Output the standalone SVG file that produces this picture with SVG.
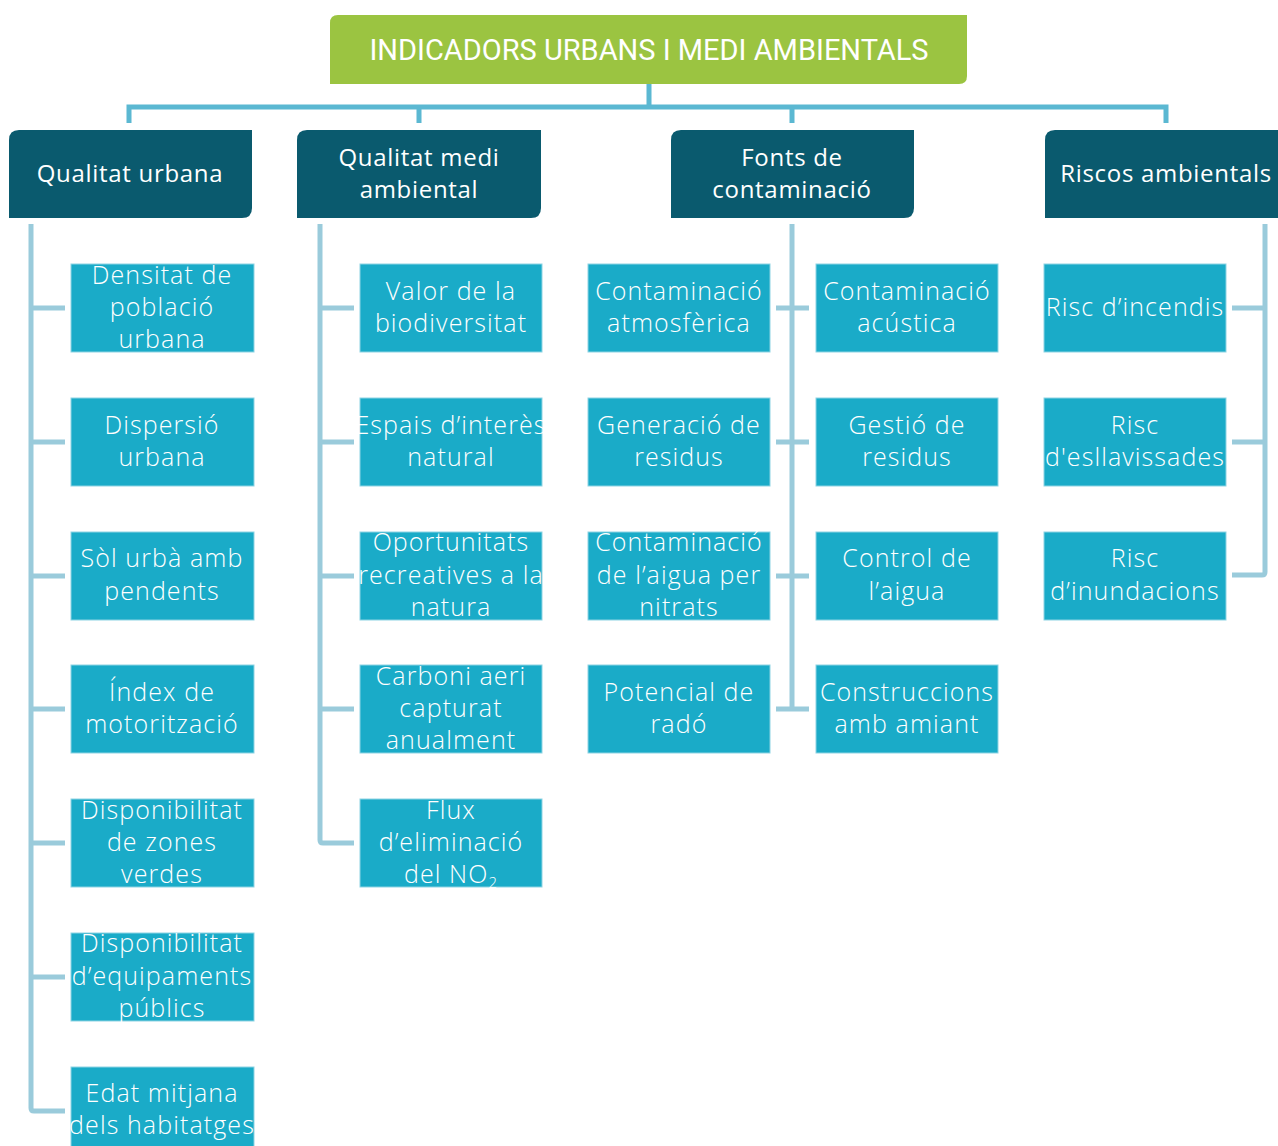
<svg xmlns="http://www.w3.org/2000/svg" width="1278" height="1146" viewBox="0 0 1278 1146">
<style>
.title{font-family:Roboto,"Liberation Sans",sans-serif;font-size:29px;fill:#fff;text-anchor:middle}
.cat{fill:#0A5A6E}
.cat-t{font-family:"Open Sans","Liberation Sans",sans-serif;font-size:24px;fill:#fff;text-anchor:middle;letter-spacing:0.7px}
.box{fill:#1AABC8;stroke:#8DD3E3;stroke-width:1}
.box-t{font-family:"Open Sans","Liberation Sans",sans-serif;font-weight:300;font-size:25px;fill:#fff;text-anchor:middle;letter-spacing:1.1px}
.top{fill:none;stroke:#5BB8D2;stroke-width:5}
.br{fill:none;stroke:#9ACBDB;stroke-width:5;stroke-linejoin:round}
</style>
<g id="connectors">
<path class="top" d="M649 84V107M129 123V107H1166V123M419 107V123M792 107V123"/>
<path class="br" d="M31 224V1108Q31 1111 34 1111H65M31 308H65M31 442H65M31 576H65M31 709H65M31 843H65M31 977H65"/>
<path class="br" d="M320 224V840Q320 843 323 843H354M320 308H354M320 442H354M320 576H354M320 709H354"/>
<path class="br" d="M792 224V709M776 308H809M776 442H809M776 576H809M776 709H809"/>
<path class="br" d="M1265 224V572Q1265 575 1262 575H1232M1265 308H1232M1265 442H1232"/>
</g>
<g id="title">
<path d="M338 15H967V76Q967 84 959 84H330V23Q330 15 338 15Z" fill="#9BC441"/>
<text class="title" x="649" y="60">INDICADORS URBANS I MEDI AMBIENTALS</text>
</g>
<g id="cat1"><path class="cat" d="M19 130H252V208Q252 218 242 218H9V140Q9 130 19 130Z"/><text class="cat-t" x="130" y="182">Qualitat urbana</text></g>
<g id="cat2"><path class="cat" d="M307 130H541V208Q541 218 531 218H297V140Q297 130 307 130Z"/><text class="cat-t" x="419" y="166">Qualitat medi</text><text class="cat-t" x="419" y="198">ambiental</text></g>
<g id="cat3"><path class="cat" d="M681 130H914V208Q914 218 904 218H671V140Q671 130 681 130Z"/><text class="cat-t" x="792" y="166">Fonts de</text><text class="cat-t" x="792" y="198">contaminació</text></g>
<g id="cat4"><path class="cat" d="M1055 130H1278V218H1045V140Q1045 130 1055 130Z"/><text class="cat-t" x="1166" y="182">Riscos ambientals</text></g>

<g id="n1"><rect class="box" x="71" y="264" width="183" height="88"/><text class="box-t" x="162" y="284">Densitat de</text><text class="box-t" x="162" y="316">població</text><text class="box-t" x="162" y="348">urbana</text></g>
<g id="n2"><rect class="box" x="71" y="398" width="183" height="88"/><text class="box-t" x="162" y="434">Dispersió</text><text class="box-t" x="162" y="466">urbana</text></g>
<g id="n3"><rect class="box" x="71" y="532" width="183" height="88"/><text class="box-t" x="162" y="567">Sòl urbà amb</text><text class="box-t" x="162" y="600">pendents</text></g>
<g id="n4"><rect class="box" x="71" y="665" width="183" height="88"/><text class="box-t" x="162" y="701">Índex de</text><text class="box-t" x="162" y="733">motorització</text></g>
<g id="n5"><rect class="box" x="71" y="799" width="183" height="88"/><text class="box-t" x="162" y="819">Disponibilitat</text><text class="box-t" x="162" y="851">de zones</text><text class="box-t" x="162" y="883">verdes</text></g>
<g id="n6"><rect class="box" x="71" y="933" width="183" height="88"/><text class="box-t" x="162" y="952">Disponibilitat</text><text class="box-t" x="162" y="985">d’equipaments</text><text class="box-t" x="162" y="1017">públics</text></g>
<g id="n7"><rect class="box" x="71" y="1067" width="183" height="88"/><text class="box-t" x="162" y="1102">Edat mitjana</text><text class="box-t" x="162" y="1134">dels habitatges</text></g>

<g id="n8"><rect class="box" x="360" y="264" width="182" height="88"/><text class="box-t" x="451" y="300">Valor de la</text><text class="box-t" x="451" y="332">biodiversitat</text></g>
<g id="n9"><rect class="box" x="360" y="398" width="182" height="88"/><text class="box-t" x="451" y="434">Espais d’interès</text><text class="box-t" x="451" y="466">natural</text></g>
<g id="n10"><rect class="box" x="360" y="532" width="182" height="88"/><text class="box-t" x="451" y="551">Oportunitats</text><text class="box-t" x="451" y="584">recreatives a la</text><text class="box-t" x="451" y="616">natura</text></g>
<g id="n11"><rect class="box" x="360" y="665" width="182" height="88"/><text class="box-t" x="451" y="685">Carboni aeri</text><text class="box-t" x="451" y="717">capturat</text><text class="box-t" x="451" y="749">anualment</text></g>
<g id="n12"><rect class="box" x="360" y="799" width="182" height="88"/><text class="box-t" x="451" y="819">Flux</text><text class="box-t" x="451" y="851">d’eliminació</text><text class="box-t" x="451" y="883">del NO<tspan font-size="15" dy="5">2</tspan></text></g>

<g id="n13"><rect class="box" x="588" y="264" width="182" height="88"/><text class="box-t" x="679" y="300">Contaminació</text><text class="box-t" x="679" y="332">atmosfèrica</text></g>
<g id="n14"><rect class="box" x="588" y="398" width="182" height="88"/><text class="box-t" x="679" y="434">Generació de</text><text class="box-t" x="679" y="466">residus</text></g>
<g id="n15"><rect class="box" x="588" y="532" width="182" height="88"/><text class="box-t" x="679" y="551">Contaminació</text><text class="box-t" x="679" y="584">de l’aigua per</text><text class="box-t" x="679" y="616">nitrats</text></g>
<g id="n16"><rect class="box" x="588" y="665" width="182" height="88"/><text class="box-t" x="679" y="701">Potencial de</text><text class="box-t" x="679" y="733">radó</text></g>

<g id="n17"><rect class="box" x="816" y="264" width="182" height="88"/><text class="box-t" x="907" y="300">Contaminació</text><text class="box-t" x="907" y="332">acústica</text></g>
<g id="n18"><rect class="box" x="816" y="398" width="182" height="88"/><text class="box-t" x="907" y="434">Gestió de</text><text class="box-t" x="907" y="466">residus</text></g>
<g id="n19"><rect class="box" x="816" y="532" width="182" height="88"/><text class="box-t" x="907" y="567">Control de</text><text class="box-t" x="907" y="600">l’aigua</text></g>
<g id="n20"><rect class="box" x="816" y="665" width="182" height="88"/><text class="box-t" x="907" y="701">Construccions</text><text class="box-t" x="907" y="733">amb amiant</text></g>

<g id="n21"><rect class="box" x="1044" y="264" width="182" height="88"/><text class="box-t" x="1135" y="316">Risc d’incendis</text></g>
<g id="n22"><rect class="box" x="1044" y="398" width="182" height="88"/><text class="box-t" x="1135" y="434">Risc</text><text class="box-t" x="1135" y="466">d'esllavissades</text></g>
<g id="n23"><rect class="box" x="1044" y="532" width="182" height="88"/><text class="box-t" x="1135" y="567">Risc</text><text class="box-t" x="1135" y="600">d’inundacions</text></g>
</svg>
